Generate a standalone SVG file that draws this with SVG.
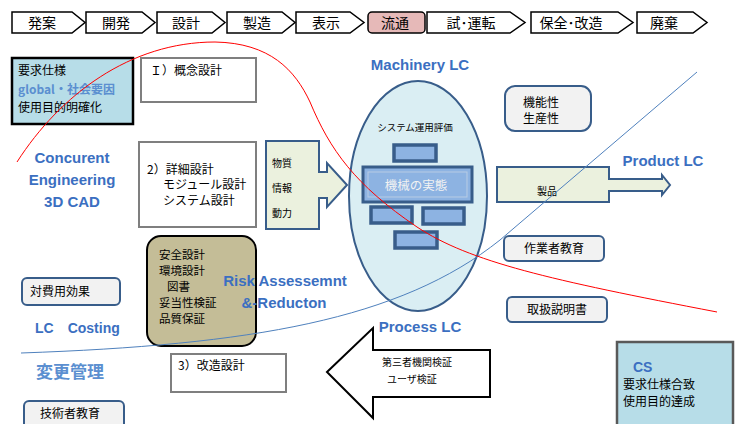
<svg xmlns="http://www.w3.org/2000/svg" width="738" height="424" viewBox="0 0 738 424">
<style>
.jp{font-family:"Noto Sans CJK JP","Noto Sans",sans-serif;fill:#000}
.en{font-family:"Liberation Sans","Noto Sans",sans-serif;font-weight:bold;fill:#3B6FC1}
.chev{fill:#fff;stroke:#000;stroke-width:1.5}
.gbox{fill:#fff;stroke:#7F7F7F;stroke-width:2}
.rbox{fill:#F2F2F2;stroke:#385D8A;stroke-width:2}
.sq{fill:#8DB3E2;stroke:#385D8A;stroke-width:3.5}
.garrow{fill:#EBF1DE;stroke:#385D8A;stroke-width:2}
</style>
<rect width="738" height="424" fill="#fff"/>
<g id="process-bar">
<g id="p1"><path class="chev" d="M12,12H72L85,22.5L72,33H12Z"/><text class="jp" x="42" y="28" font-size="14" text-anchor="middle">発案</text></g>
<g id="p2"><path class="chev" d="M86,12H142L155,22.5L142,33H86Z"/><text class="jp" x="116" y="28" font-size="14" text-anchor="middle">開発</text></g>
<g id="p3"><path class="chev" d="M157,12H212L225,22.5L212,33H157Z"/><text class="jp" x="186" y="28" font-size="14" text-anchor="middle">設計</text></g>
<g id="p4"><path class="chev" d="M227,12H282L295,22.5L282,33H227Z"/><text class="jp" x="257" y="28" font-size="14" text-anchor="middle">製造</text></g>
<g id="p5"><path class="chev" d="M296,12H350L364,22.5L350,33H296Z"/><text class="jp" x="326" y="28" font-size="14" text-anchor="middle">表示</text></g>
<g id="p6"><rect x="368" y="12" width="57" height="21" rx="4" fill="#E6B9B8" stroke="#000" stroke-width="1.5"/><text class="jp" x="395" y="28" font-size="14" text-anchor="middle">流通</text></g>
<g id="p7"><path class="chev" d="M427,12H510L525,22.5L510,33H427Z"/><text class="jp" x="471" y="28" font-size="14" text-anchor="middle">試･運転</text></g>
<g id="p8"><path class="chev" d="M531,12H618L633,22.5L618,33H531Z"/><text class="jp" x="571" y="28" font-size="14" text-anchor="middle">保全･改造</text></g>
<g id="p9"><path class="chev" d="M637,12H693L707,22.5L693,33H637Z"/><text class="jp" x="664" y="28" font-size="14" text-anchor="middle">廃棄</text></g>
</g>
<g id="req">
<rect x="12" y="58" width="121" height="66" fill="#B7DDE8" stroke="#000" stroke-width="2.5"/>
<text class="jp" x="18" y="75" font-size="12">要求仕様</text>
<text class="jp" x="18" y="94" font-size="12" font-weight="bold" style="fill:#5B8FD0">global・社会要因</text>
<text class="jp" x="18" y="112" font-size="12">使用目的明確化</text>
</g>
<g id="concept"><rect x="141" y="58" width="115" height="44" class="gbox"/><text class="jp" x="150" y="75" font-size="12">Ｉ）概念設計</text></g>
<g id="ce">
<text class="en" x="72" y="163" font-size="15" text-anchor="middle">Concurent</text>
<text class="en" x="72" y="185" font-size="15" text-anchor="middle">Engineering</text>
<text class="en" x="72" y="207" font-size="15" text-anchor="middle">3D CAD</text>
</g>
<g id="detail"><rect x="139" y="142" width="117" height="85" class="gbox"/>
<text class="jp" x="147" y="174" font-size="12">2）詳細設計</text>
<text class="jp" x="163" y="189" font-size="12">モジュール設計</text>
<text class="jp" x="163" y="205" font-size="12">システム設計</text>
</g>
<g id="inputs"><path class="garrow" d="M266,141H319V172H327V163L347,185L327,207V198H319V229H266Z"/>
<text class="jp" x="272" y="167" font-size="10">物質</text>
<text class="jp" x="272" y="192" font-size="10">情報</text>
<text class="jp" x="272" y="217" font-size="10">動力</text>
</g>
<g id="machinery">
<text class="en" x="420" y="70" font-size="15" text-anchor="middle">Machinery LC</text>
<ellipse cx="418" cy="196" rx="69" ry="115" fill="#DAEEF3" stroke="#385D8A" stroke-width="2"/>
<text class="jp" x="415" y="131" font-size="9.5" text-anchor="middle">システム運用評価</text>
<rect class="sq" x="394" y="145" width="42" height="16"/>
<rect x="363" y="167" width="109" height="35" fill="#8DB3E2" stroke="#385D8A" stroke-width="3"/>
<rect x="368" y="172" width="99" height="25" fill="#8DB3E2" stroke="#B8CCE4" stroke-width="1"/>
<text class="jp" x="416" y="190" font-size="12.5" text-anchor="middle" style="fill:#F2F2F2">機械の実態</text>
<rect class="sq" x="371" y="207" width="41" height="16"/>
<rect class="sq" x="423" y="208" width="41" height="16"/>
<rect class="sq" x="395" y="232" width="42" height="16"/>
</g>
<g id="function"><rect class="rbox" x="505" y="86" width="86" height="45" rx="10"/>
<text class="jp" x="523" y="107" font-size="12">機能性</text>
<text class="jp" x="523" y="123" font-size="12">生産性</text>
</g>
<g id="product"><path class="garrow" d="M497,167H609V179H662V175L670,185L662,195V191H609V202H497Z"/>
<text class="jp" x="537" y="195" font-size="10">製品</text>
<text class="en" x="663" y="166" font-size="15" text-anchor="middle">Product LC</text>
</g>
<g id="safety"><rect x="147" y="236" width="109" height="110" rx="14" fill="#C4BD97" stroke="#000" stroke-width="2"/>
<text class="jp" x="159" y="259" font-size="11.5">安全設計</text>
<text class="jp" x="159" y="275" font-size="11.5">環境設計</text>
<text class="jp" x="167" y="291" font-size="11.5">図書</text>
<text class="jp" x="159" y="307" font-size="11.5">妥当性検証</text>
<text class="jp" x="159" y="323" font-size="11.5">品質保証</text>
</g>
<g id="risk">
<text class="en" x="285" y="286" font-size="15" text-anchor="middle">Risk Assessemnt</text>
<text class="en" x="284" y="308" font-size="15" text-anchor="middle">&amp;-Reducton</text>
</g>
<g id="cost"><rect class="rbox" x="22" y="278" width="98" height="27" rx="5"/><text class="jp" x="30" y="296" font-size="12">対費用効果</text></g>
<g id="lccost"><text class="en" x="35" y="333" font-size="14">LC　Costing</text></g>
<g id="change"><text class="jp" x="36" y="378" font-size="17" font-weight="bold" style="fill:#5B8FD0">変更管理</text></g>
<g id="engineer"><rect class="rbox" x="24" y="401" width="100" height="30" rx="5"/><text class="jp" x="40" y="418" font-size="12">技術者教育</text></g>
<g id="modify"><rect class="gbox" x="171" y="354" width="115" height="38"/><text class="jp" x="178" y="370" font-size="12">3）改造設計</text></g>
<g id="verify"><path d="M327,372L373,328V350H490V397H373V418Z" fill="#fff" stroke="#000" stroke-width="2"/>
<text class="jp" x="382" y="366" font-size="10">第三者機関検証</text>
<text class="jp" x="387" y="383" font-size="10">ユーザ検証</text>
<text class="en" x="420" y="332" font-size="15" text-anchor="middle">Process LC</text>
</g>
<g id="worker"><rect class="rbox" x="504" y="236" width="100" height="25" rx="5"/><text class="jp" x="554" y="253" font-size="12" text-anchor="middle">作業者教育</text></g>
<g id="manual"><rect class="rbox" x="507" y="297" width="100" height="25" rx="5"/><text class="jp" x="557" y="314" font-size="12" text-anchor="middle">取扱説明書</text></g>
<g id="cs"><rect x="617" y="342" width="116" height="90" fill="#B7DDE8" stroke="#595959" stroke-width="2.5"/>
<text class="en" x="633" y="372" font-size="14">CS</text>
<text class="jp" x="623" y="389" font-size="12">要求仕様合致</text>
<text class="jp" x="623" y="406" font-size="12">使用目的達成</text>
</g>
<g id="connectors" fill="none">
<path d="M21,353 C250,345 400,320 500,240 L697,72" stroke="#4F81BD" stroke-width="1"/>
<path d="M17,162 C60,95 130,42 215,42 C270,43 295,70 310,102 C330,150 355,185 417,227 C470,262 550,280 717,312" stroke="#FF0000" stroke-width="1"/>
</g>
</svg>
